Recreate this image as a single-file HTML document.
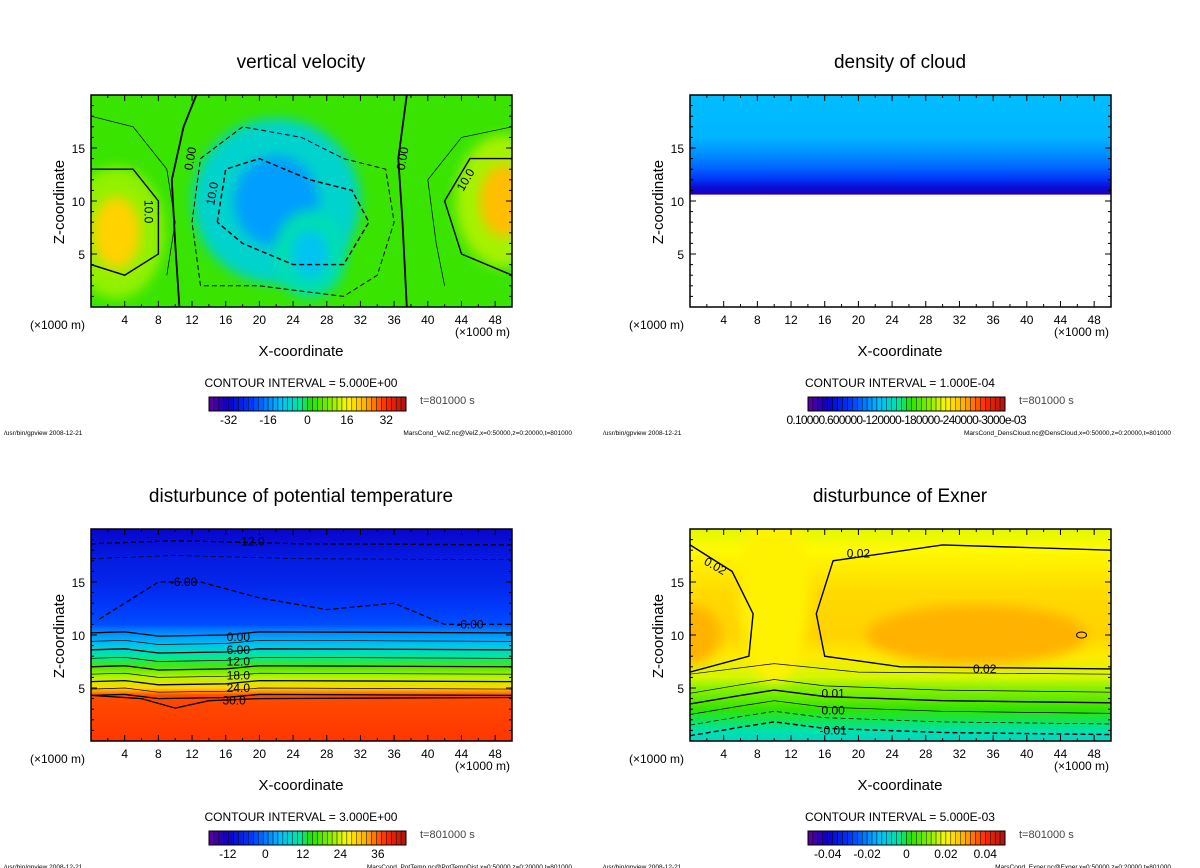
<!DOCTYPE html>
<html><head><meta charset="utf-8"><style>
html,body{margin:0;padding:0;background:#fff;}
svg{display:block;font-family:"Liberation Sans","DejaVu Sans",sans-serif;}
</style></head><body>
<svg id="s" width="1200" height="868" viewBox="0 0 1200 868">
<defs>
<filter id="blur6"><feGaussianBlur stdDeviation="6"/></filter>
<filter id="blur3"><feGaussianBlur stdDeviation="3"/></filter>
</defs>
</svg>
<script>
// ---- data ----
const xTicks=[4,8,12,16,20,24,28,32,36,40,44,48];
const zTicks=[5,10,15];
const titles=["vertical velocity","density of cloud","disturbunce of potential temperature","disturbunce of Exner"];
const intervals=["5.000E+00","1.000E-04","3.000E+00","5.000E-03"];
const files=["MarsCond_VelZ.nc@VelZ,x=0:50000,z=0:20000,t=801000","MarsCond_DensCloud.nc@DensCloud,x=0:50000,z=0:20000,t=801000","MarsCond_PotTemp.nc@PotTempDist,x=0:50000,z=0:20000,t=801000","MarsCond_Exner.nc@Exner,x=0:50000,z=0:20000,t=801000"];
const cbTicks1=[-32,-16,0,16,32];
const cbTicks3=[-12,0,12,24,36];
const cbTicks4=[-0.04,-0.02,0,0.02,0.04];
const cbLabels4=["-0.04","-0.02","0","0.02","0.04"];
// profiles (z in km, value)
const cloudZ=[10.4,10.7,11.3,12,13,14.5,16,20];
const cloudV=[0.02,0.08,0.13,0.2,0.26,0.31,0.35,0.36]; // normalized colormap position
const ptZ=[0,4.3,5,6,7,8,9,10,10.5,11,13,15,17,19,20];
const ptV=[38,37,29,23,17,11,6,2,0,-3,-5,-7,-8,-10,-11];
const exZ=[0,1,2,3,4,5,6,8,10,14,18,20];
const exV=[-0.008,-0.005,-0.001,0.003,0.008,0.012,0.017,0.022,0.025,0.024,0.02,0.018];
const wBlobsX=[22,3,49,26];
const wBlobsZ=[10,7,10,5];
const wBlobsV=[-14,20,22,-10];
</script>
<script>
const S=document.getElementById('s');const NS="http://www.w3.org/2000/svg";
function el(t,a,p){const e=document.createElementNS(NS,t);for(const k in a)e.setAttribute(k,a[k]);(p||S).appendChild(e);return e;}
const stops=[[0,[96,0,150]],[0.1,[10,0,200]],[0.22,[0,60,255]],[0.36,[0,190,255]],[0.46,[0,230,160]],[0.52,[40,225,0]],[0.62,[140,240,0]],[0.7,[255,250,0]],[0.8,[255,170,0]],[0.9,[255,40,0]],[1,[170,20,20]]];
function cmap(t){t=Math.max(0,Math.min(1,t));for(let i=1;i<stops.length;i++){if(t<=stops[i][0]){const a=stops[i-1],b=stops[i],f=(t-a[0])/(b[0]-a[0]);return 'rgb('+a[1].map((v,j)=>Math.round(v+(b[1][j]-v)*f)).join(',')+')';}}return 'rgb(170,20,20)';}
const PL=[[91,95],[690,95],[91,529],[690,529]];const PW=421,PH=212;
function xs(p,x){return PL[p][0]+x/50*PW;}function zs(p,z){return PL[p][1]+PH-z/20*PH;}
let gid=0;
function profile(p,Z,V,norm,name){const id='g'+(gid++);const g=el('linearGradient',{id:id,x1:0,y1:1,x2:0,y2:0},S.querySelector('defs'));
Z.forEach((z,i)=>{el('stop',{offset:z/20,'stop-color':cmap(norm(V[i]))},g);});
const r=el('rect',{x:PL[p][0],y:PL[p][1],width:PW,height:PH,fill:'url(#'+id+')'});

return r;}
function clip(p){const id='c'+p;const c=el('clipPath',{id:id},S.querySelector('defs'));el('rect',{x:PL[p][0],y:PL[p][1],width:PW,height:PH},c);return 'url(#'+id+')';}
function axes(p){const [x0,y0]=PL[p];const ox=p%2?599:0,oy=p>1?434:0;
const fr=el('rect',{x:x0,y:y0,width:PW,height:PH,fill:'none',stroke:'#000','stroke-width':1.5});


xTicks.forEach(v=>{const x=xs(p,v);el('line',{x1:x,y1:y0+PH,x2:x,y2:y0+PH-6,stroke:'#000'});el('line',{x1:x,y1:y0,x2:x,y2:y0+6,stroke:'#000'});
const t=el('text',{x:x,y:y0+PH+17,'font-size':12,'text-anchor':'middle'});t.textContent=v;

});
for(let v=2;v<50;v+=2){if(v%4){const x=xs(p,v);el('line',{x1:x,y1:y0+PH,x2:x,y2:y0+PH-3,stroke:'#000'});el('line',{x1:x,y1:y0,x2:x,y2:y0+3,stroke:'#000'});}}
for(let v=1;v<20;v++){const y=zs(p,v),L=v%5?3:6;el('line',{x1:x0,y1:y,x2:x0+L,y2:y,stroke:'#000'});el('line',{x1:x0+PW,y1:y,x2:x0+PW-L,y2:y,stroke:'#000'});}
zTicks.forEach(v=>{const t=el('text',{x:x0-6,y:zs(p,v)+5,'font-size':12,'text-anchor':'end'});t.textContent=v;

});
const mk=(txt,a,name)=>{const t=el('text',a);t.textContent=txt;return t;};
mk(titles[p],{x:301+ox,y:68+oy,'font-size':19,'text-anchor':'middle'},'chart-title');
mk('Z-coordinate',{x:0,y:0,'font-size':15,'text-anchor':'middle',transform:'translate('+(64+ox)+','+(202+oy)+') rotate(-90)'},'y-axis-title');
mk('(×1000 m)',{x:30+ox,y:329+oy,'font-size':12},'x-unit-left');
mk('(×1000 m)',{x:455+ox,y:336+oy,'font-size':12},'x-unit-right');
mk('X-coordinate',{x:301+ox,y:356+oy,'font-size':15,'text-anchor':'middle'},'x-axis-title');
mk('CONTOUR INTERVAL = '+intervals[p],{x:301+ox,y:387+oy,'font-size':12,'text-anchor':'middle'},'contour-interval');
mk('t=801000 s',{x:420+ox,y:404+oy,'font-size':11,fill:'#444'},'time-label');
mk('/usr/bin/gpview  2008-12-21',{x:4+ox,y:435+oy,'font-size':6.5},'footer-program');
mk(files[p],{x:572+ox,y:435+oy,'font-size':6.5,'text-anchor':'end'},'footer-file');
// colorbar
const cx=209+ox,cy=397+oy,cw=197,ch=14,n=40;
for(let i=0;i<n;i++){const r=el('rect',{x:cx+i*cw/n,y:cy,width:cw/n,height:ch,fill:cmap((i+0.5)/n),stroke:'#000','stroke-width':0.4});

}
el('rect',{x:cx,y:cy,width:cw,height:ch,fill:'none',stroke:'#000'});
return {cx,cy,cw,ch,mk};}
function cbLabels(a,vals,labels,lo,hi){vals.forEach((v,i)=>{a.mk(labels[i],{x:a.cx+(v-lo)/(hi-lo)*a.cw,y:a.cy+27,'font-size':12,'text-anchor':'middle'},'colorbar-tick-label');});}
function line(p,pts,dash,w,name,cp){const d=pts.map((q,i)=>(i?'L':'M')+xs(p,q[0]).toFixed(1)+','+zs(p,q[1]).toFixed(1)).join(' ');
const e=el('path',{d:d,fill:'none',stroke:'#000','stroke-width':w||1,'stroke-dasharray':dash?'5,3':'none','clip-path':cp});

return e;}
function lab(p,x,z,t,rot){const e=el('text',{x:xs(p,x),y:zs(p,z)+4,'font-size':12,'text-anchor':'middle',transform:rot?'rotate('+rot+' '+xs(p,x)+' '+zs(p,z)+')':''});e.textContent=t;

}

// Panel 0: vertical velocity
const n1=v=>(v+40)/80;
let cp=clip(0);
let bg=el('rect',{x:PL[0][0],y:PL[0][1],width:PW,height:PH,fill:cmap(n1(3))});


const bl=el('g',{'clip-path':cp});
wBlobsX.forEach((x,i)=>{const v=wBlobsV[i];const rx=i==0?70:(i==3?30:40),ry=i==0?75:(i==3?40:60);
el('ellipse',{cx:xs(0,x),cy:zs(0,wBlobsZ[i]),rx:rx*1.2,ry:ry*1.1,fill:cmap(n1(v*0.5)),filter:'url(#blur6)'},bl);
const e=el('ellipse',{cx:xs(0,x),cy:zs(0,wBlobsZ[i]),rx:rx*0.6,ry:ry*0.6,fill:cmap(n1(v)),filter:'url(#blur6)'},bl);

});
line(0,[[10.5,0],[10,6],[9.6,12],[11,17],[12.5,20]],0,1.8,'contour-zero',cp);
line(0,[[37.5,0],[37,8],[36.5,14],[37.5,20]],0,1.8,'contour-zero',cp);
line(0,[[13,2],[12,8],[13,14],[18,17],[25,16],[30,14],[35,13],[36,8],[34,3],[30,1],[20,2],[13,2]],1,1,'contour-neg',cp);
line(0,[[15,8],[16,13],[20,14],[26,12],[31,11],[33,8],[30,4],[24,4],[18,6],[15,8]],1,1.4,'contour-neg10',cp);
line(0,[[0,4],[4,3],[8,5],[8,10],[5,13],[0,13]],0,1.4,'contour-pos10',cp);
line(0,[[50,3],[44,5],[42,10],[45,14],[50,14]],0,1.4,'contour-pos10',cp);
line(0,[[0,18],[5,17],[9,13],[10,8],[9,3]],0,0.7,'contour-pos5',cp);
line(0,[[50,17],[44,16],[40,12],[41,6],[42,2]],0,0.7,'contour-pos5',cp);
lab(0,11.8,14,'0.00',-80);lab(0,6.8,9,'10.0',90);lab(0,14.4,10.7,'10.0',-80);lab(0,37,14,'0.00',-80);lab(0,44.5,12,'10.0',-60);
let a=axes(0);cbLabels(a,cbTicks1,cbTicks1.map(String),-40,40);

// Panel 1: cloud density
cp=clip(1);
const cc=el('clipPath',{id:'cclip'},S.querySelector('defs'));el('rect',{x:PL[1][0],y:PL[1][1],width:PW,height:zs(1,10.6)-PL[1][1]},cc);
profile(1,cloudZ,cloudV,v=>v,'cloud-field').setAttribute('clip-path','url(#cclip)');
a=axes(1);
a.mk('0.10000.600000-120000-180000-240000-3000e-03',{x:a.cx+a.cw/2,y:a.cy+27,'font-size':12,'text-anchor':'middle',textLength:240},'colorbar-tick-label');

// Panel 2: potential temperature
cp=clip(2);
profile(2,ptZ,ptV,v=>(v+18)/63,'pt-field');
[[-12,18.6],[-9,17.2]].forEach(q=>line(2,[[0,q[1]],[10,q[1]+0.3],[25,q[1]],[50,q[1]-0.1]],1,q[0]==-12?1.3:0.7,'contour-neg',cp));
line(2,[[1,11.5],[8,15],[13,15],[20,13.5],[28,12.4],[36,13],[42,11],[50,11]],1,1.3,'contour-neg6',cp);
[10.2,9.4,8.6,7.8,7,6.3,5.6,4.9,4.3].forEach((z,i)=>line(2,[[0,z],[4,z+0.1],[8,z-0.3],[16,z-0.2],[20,z+0.1],[50,z]],0,i%2?0.7:1.3,'contour-pos',cp));
line(2,[[0,4.3],[6,4],[10,3.1],[14,3.8],[20,4],[50,4.1]],0,1.3,'contour-30',cp);
lab(2,19,18.8,'-12.0');lab(2,11,15,'-6.00');lab(2,45,11,'-6.00');lab(2,17.5,9.8,'0.00');lab(2,17.5,8.6,'6.00');lab(2,17.5,7.5,'12.0');lab(2,17.5,6.2,'18.0');lab(2,17.5,5,'24.0');lab(2,17,3.8,'30.0');
a=axes(2);cbLabels(a,cbTicks3,cbTicks3.map(String),-18,45);

// Panel 3: Exner
cp=clip(3);
profile(3,exZ,exV,v=>(v+0.05)/0.1,'exner-field');
const eg=el('g',{'clip-path':cp});
el('ellipse',{cx:xs(3,10),cy:zs(3,14),rx:35,ry:90,fill:cmap((0.021+0.05)/0.1),filter:'url(#blur6)'},eg);
el('ellipse',{cx:xs(3,34),cy:zs(3,10),rx:110,ry:30,fill:cmap((0.029+0.05)/0.1),filter:'url(#blur6)'},eg);
el('ellipse',{cx:xs(3,0),cy:zs(3,10),rx:30,ry:30,fill:cmap((0.029+0.05)/0.1),filter:'url(#blur6)'},eg);
line(3,[[0,18.5],[5,16],[7.5,12],[7,8],[0,6.5]],0,1.4,'contour-002',cp);
line(3,[[50,18],[30,18.5],[17,17],[15,12],[16,8],[25,7],[50,6.8]],0,1.4,'contour-002',cp);
[[4,0],[5,1],[3,1],[2,1],[1,0]].forEach((q,i)=>{const z=q[0];line(3,[[0,z-0.5],[6,z+0.3],[10,z+0.8],[16,z+0.2],[30,z-0.2],[50,z-0.4]],i>=3,q[1]?0.7:1.4,'contour-line',cp);});
line(3,[[0,6.3],[10,7.3],[20,6.5],[50,6.3]],0,0.7,'contour-line',cp);
el('ellipse',{cx:xs(3,46.5),cy:zs(3,10),rx:5,ry:3,fill:'none',stroke:'#000'});
lab(3,3,16.5,'0.02',30);lab(3,20,17.7,'0.02');lab(3,35,6.8,'0.02');lab(3,17,4.5,'0.01');lab(3,17,2.9,'0.00');lab(3,17,1,'-0.01');
a=axes(3);cbLabels(a,cbTicks4,cbLabels4,-0.05,0.05);
</script>
</body></html>
